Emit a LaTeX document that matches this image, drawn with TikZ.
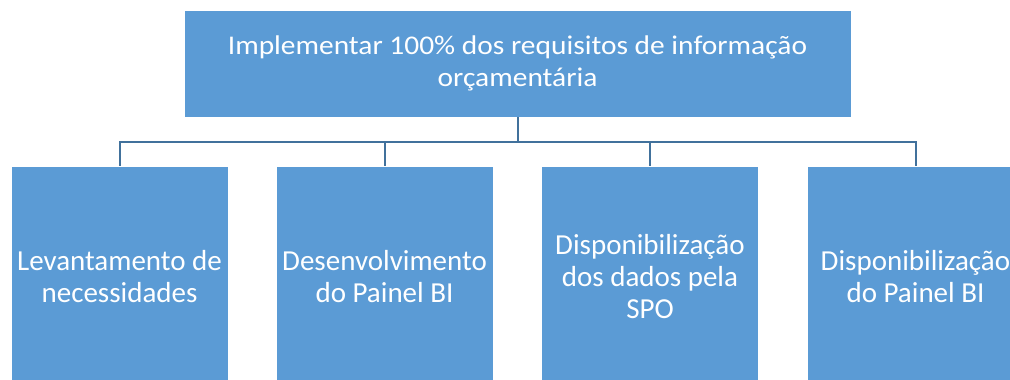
\documentclass[tikz,border=0pt]{standalone}
\usepackage{fontspec}
\setmainfont{Carlito}
\newfontfamily\topfont{Carlito}[FakeStretch=1.09]
\definecolor{boxblue}{HTML}{5B9BD5}
\definecolor{linkblue}{HTML}{41719C}
\tikzset{
  x=1pt,y=1pt,
  orgbox/.style={rectangle, fill=boxblue, draw=white, line width=0.8pt, text=white, align=center,
    inner sep=0pt},
  topbox/.style={orgbox, minimum width=667, minimum height=107, font=\topfont\fontsize{27}{32}\selectfont},
  subbox/.style={orgbox, minimum width=217, minimum height=222, font=\fontsize{29}{32}\selectfont},
  conn/.style={draw=linkblue, line width=2pt}
}
\begin{document}
\begin{tikzpicture}
\useasboundingbox (0,0) rectangle (1010,380);
\clip (0,0) rectangle (1010,380);
\node[topbox] (top) at (517.5,316.5) {Implementar 100\% dos requisitos de informação\\orçamentária};
\node[subbox] (b1) at (119.5,103) {Levantamento de\\necessidades};
\node[subbox] (b2) at (384.5,103) {Desenvolvimento\\do Painel BI};
\node[subbox] (b3) at (650,103) {Disponibilização\\dos dados pela\\SPO};
\node[subbox] (b4) at (915.5,103) {Disponibilização\\do Painel BI};
\coordinate (bus) at (517.5,238);
\draw[conn] (top.south) -- (bus);
\draw[conn] (b1.north) |- (bus) -| (b4.north);
\draw[conn] (b2.north) -- (b2.north |- bus);
\draw[conn] (b3.north) -- (b3.north |- bus);
\end{tikzpicture}
\end{document}
